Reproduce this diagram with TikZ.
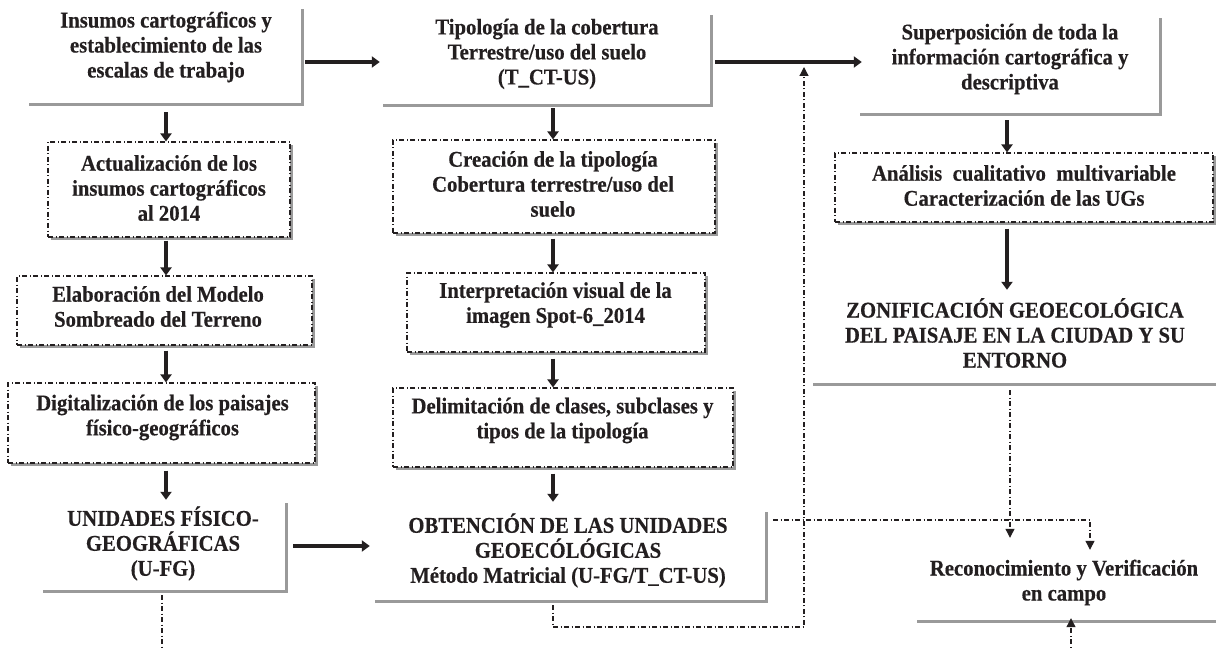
\documentclass[tikz,border=0pt]{standalone}
\usepackage{fontspec}
\setmainfont{Liberation Serif}[FakeStretch=0.92, BoldFeatures={FakeBold=0.4}]
\usetikzlibrary{arrows.meta,shadows,calc}
\definecolor{shadowgray}{HTML}{9A9A9A}
\definecolor{ink}{HTML}{231F20}
\begin{document}
\begin{tikzpicture}[x=1pt,y=-1pt,
  boxbase/.style={rectangle, fill=white, inner sep=0pt,
    drop shadow={shadow xshift=3pt, shadow yshift=-3pt, fill=shadowgray, opacity=1}},
  solidbox/.style={boxbase, draw=none},
  dashbox/.style={boxbase, draw=ink, line width=1.1pt,
    dash pattern=on 5pt off 2.5pt on 1pt off 2.5pt},
  txt/.style={font=\fontsize{22.5}{25}\selectfont\bfseries, text=ink, align=center, inner sep=0pt},
  arr/.style={draw=ink, line width=3.4pt, -{Triangle[width=11pt,length=8pt]}},
  dd/.style={draw=ink, line width=1.2pt, dash pattern=on 5pt off 2.5pt on 1pt off 2.5pt},
  dda/.style={dd, -{Triangle[width=9pt,length=9pt]}}
]
\useasboundingbox (0,0) rectangle (1216,650);
\fill[white] (0,0) rectangle (1216,650);

% column x positions for connectors
\coordinate (xl) at (166,0);
\coordinate (xm) at (553,0);
\coordinate (xr) at (1007,0);
\coordinate (xd) at (1090,0);
\coordinate (xz) at (1010,0);
\coordinate (xu) at (162,0);
\coordinate (xs) at (1071,0);

% ---------- boxes ----------
\node[solidbox, minimum width=275, minimum height=97] (b1) at (163.5,54.5) {};
\node[solidbox, minimum width=330, minimum height=92] (b2) at (545,58) {};
\node[solidbox, minimum width=302, minimum height=98] (b3) at (1008,64) {};

\node[dashbox, minimum width=242, minimum height=95] (a1) at (169,189.5) {};
\node[dashbox, minimum width=295, minimum height=69] (a2) at (164.5,310.5) {};
\node[dashbox, minimum width=307, minimum height=80] (a3) at (161.5,423) {};
\node[solidbox, minimum width=245, minimum height=90] (u) at (162.5,545) {};

\node[dashbox, minimum width=322, minimum height=93] (c1) at (554,186.5) {};
\node[dashbox, minimum width=298, minimum height=79] (c2) at (556,312.5) {};
\node[dashbox, minimum width=340, minimum height=79] (c3) at (563,427.5) {};
\node[solidbox, minimum width=393, minimum height=91] (o) at (568.5,554.5) {};

\node[dashbox, minimum width=378, minimum height=69] (an) at (1024,187.5) {};
\node[solidbox, minimum width=415, minimum height=93] (z) at (1017.5,336.5) {};
\node[solidbox, minimum width=311, minimum height=70] (r) at (1069.5,585) {};

% ---------- texts ----------
\node[txt] (t1) at (166,47) {Insumos cartográficos y\\establecimiento de las\\escalas de trabajo};
\node[txt] (t2) at (547,54) {Tipología de la cobertura\\Terrestre/uso del suelo\\(T\_CT-US)};
\node[txt] (t3) at (1010,59) {Superposición de toda la\\información cartográfica y\\descriptiva};
\node[txt] (ta1) at (169,188) {Actualización de los\\insumos cartográficos\\al 2014};
\node[txt] (ta2) at (158,306.5) {Elaboración del Modelo\\Sombreado del Terreno};
\node[txt] (ta3) at (162.5,417.5) {Digitalización de los paisajes\\físico-geográficos};
\node[txt] (tu) at (163,543.5) {UNIDADES FÍSICO-\\GEOGRÁFICAS\\(U-FG)};
\node[txt] (tc1) at (553,184) {Creación de la tipología\\Cobertura terrestre/uso del\\suelo};
\node[txt] (tc2) at (555.5,305) {Interpretación visual de la\\imagen Spot-6\_2014};
\node[txt] (tc3) at (562.5,420.5) {Delimitación de clases, subclases y\\tipos de la tipología};
\node[txt] (to) at (568,550.5) {OBTENCIÓN DE LAS UNIDADES\\GEOECÓLÓGICAS\\Método Matricial (U-FG/T\_CT-US)};
\node[txt] (tan) at (1024,185.5) {Análisis\hspace{10.5pt}cualitativo\hspace{10.5pt}multivariable\\Caracterización de las UGs};
\node[txt] (tz) at (1015,333) {ZONIFICACIÓN GEOECOLÓGICA\\DEL PAISAJE EN LA CIUDAD Y SU\\ENTORNO};
\node[txt] (tr) at (1064,582.5) {Reconocimiento y Verificación\\en campo};

% ---------- solid arrows ----------
\draw[arr] ($(b1.east)+(4,7.5)$) -- ($(b2.west)+(0,4)$);
\draw[arr] ($(b2.east)+(5,4)$) -- ($(b3.west)+(5,-2)$);
\draw[arr] ($(u.east)+(8,1)$) -- ($(o.west)+(-2,-8.5)$);

\draw[arr] ($(b1.south -| xl)+(0,9)$) -- (a1.north -| xl);
\draw[arr] ($(a1.south -| xl)+(0,3)$) -- (a2.north -| xl);
\draw[arr] ($(a2.south -| xl)+(0,5)$) -- (a3.north -| xl);
\draw[arr] ($(a3.south -| xl)+(0,7)$) -- (u.north -| xl);

\draw[arr] ($(b2.south -| xm)+(0,4)$) -- (c1.north -| xm);
\draw[arr] ($(c1.south -| xm)+(0,5)$) -- (c2.north -| xm);
\draw[arr] ($(c2.south -| xm)+(0,6)$) -- (c3.north -| xm);
\draw[arr] ($(c3.south -| xm)+(0,6)$) -- ($(o.north -| xm)+(0,-7)$);

\draw[arr] ($(b3.south -| xr)+(0,7)$) -- (an.north -| xr);
\draw[arr] ($(an.south -| xr)+(0,6)$) -- (z.north -| xr);

% ---------- dash-dot connectors ----------
\coordinate (lowR) at (804,627);
\coordinate (upT) at (804,67);
\coordinate (uEnd) at (162,655);
\coordinate (sBeg) at (1071,655);

\draw[dda] ($(o.east)+(8,-34.5)$) -| ($(r.north -| xd)$);
\draw[dda] ($(z.south -| xz)+(0,7)$) -- ($(r.north -| xz)+(0,-12)$);
\draw[dda] ($(o.south -| xm)+(0,5)$) |- (lowR) -- (upT);
\draw[dd] ($(u.south -| xu)+(0,5)$) -- (uEnd);
\draw[dda] (sBeg) -- ($(r.south -| xs)+(0,-2)$);
\end{tikzpicture}
\end{document}
